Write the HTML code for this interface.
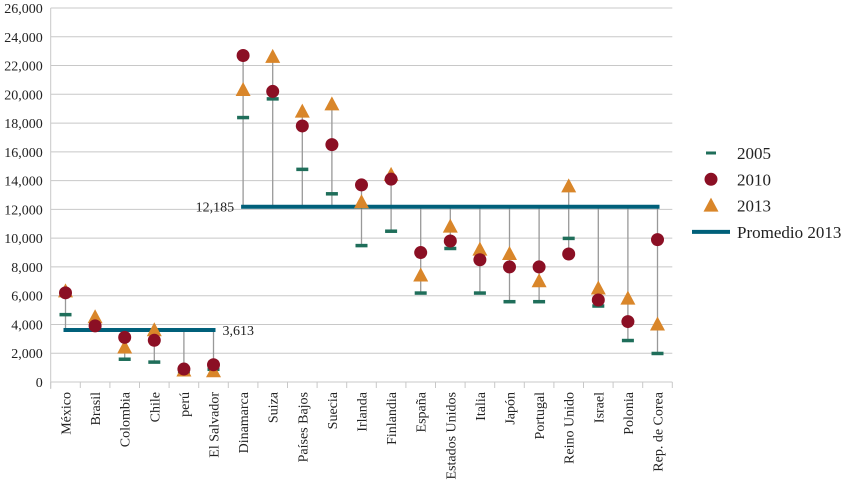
<!DOCTYPE html>
<html><head><meta charset="utf-8"><style>
body{margin:0;background:#fff}
svg{font-family:"Liberation Serif",serif}
</style></head><body>
<svg id="c" width="858" height="490"></svg>
<script>
const categories=["México","Brasil","Colombia","Chile","perú","El Salvador","Dinamarca","Suiza","Países Bajos","Suecia","Irlanda","Finlandia","España","Estados Unidos","Italia","Japón","Portugal","Reino Unido","Israel","Polonia","Rep. de Corea"];
const s2005=[4700,3800,1600,1400,600,900,18400,19700,14800,13100,9500,10500,6200,9300,6200,5600,5600,10000,5300,2900,2000];
const s2010=[6200,3900,3100,2900,900,1200,22700,20200,17800,16500,13700,14100,9000,9800,8500,8000,8000,8900,5700,4200,9900];
const s2013=[6300,4500,2400,3600,800,750,20300,22600,18800,19300,12500,14400,7400,10800,9200,8900,7000,13600,6500,5800,4000];
const avgGroups=[{from:0,to:5,value:3613,label:"3,613"},{from:6,to:20,value:12185,label:"12,185"}];
const yTicks=[0,2000,4000,6000,8000,10000,12000,14000,16000,18000,20000,22000,24000,26000];
const NS="http://www.w3.org/2000/svg";
const svg=document.getElementById('c');
const L=50.7,band=29.6,Y0=382,Ytop=8,YMAX=26000;
const x=i=>L+band*(i+0.5);
const y=v=>Y0-(Y0-Ytop)*v/YMAX;
function mk(t,a,p){const e=document.createElementNS(NS,t);for(const k in a)e.setAttribute(k,a[k]);(p||svg).appendChild(e);return e;}
yTicks.forEach(v=>{
 const g=mk('line',{x1:L,x2:L+band*21,y1:y(v),y2:y(v),stroke:'#c8c8c8','stroke-width':1});
 
 
 const t=mk('text',{x:L-8,y:y(v)+5,'text-anchor':'end','font-size':14,fill:'#222'});
 t.textContent=v.toLocaleString('en-US');
 
 
});
const ax=mk('line',{x1:L,x2:L,y1:Ytop,y2:Y0+7,stroke:'#c8c8c8'});

for(let i=0;i<=21;i++){const tk=mk('line',{x1:L+band*i,x2:L+band*i,y1:Y0,y2:Y0+6,stroke:'#c8c8c8'});
 
 }
categories.forEach((c,i)=>{
 const t=mk('text',{transform:`translate(${x(i)+5},392) rotate(-90)`,'text-anchor':'end','font-size':14,fill:'#222'});
 t.textContent=c;
 
 
});
avgGroups.forEach(g=>{for(let i=g.from;i<=g.to;i++){
 const vals=[g.value,s2005[i],s2010[i],s2013[i]];
 const dl=mk('line',{x1:x(i),x2:x(i),y1:y(Math.min(...vals)),y2:y(Math.max(...vals)),stroke:'#999','stroke-width':1.3});
 
 
}});
avgGroups.forEach(g=>{
 const al=mk('line',{x1:x(g.from)-2,x2:x(g.to)+2,y1:y(g.value),y2:y(g.value),stroke:'#00607a','stroke-width':4});
 
 
 const first=g.from===0;
 const t=mk('text',{x:first?x(g.to)+9:x(g.from)-9,y:y(g.value)+5,'text-anchor':first?'start':'end','font-size':14,fill:'#222'});
 t.textContent=g.label;
 
 
});
categories.forEach((c,i)=>{
 const r=mk('rect',{x:x(i)-6,y:y(s2005[i])-1.5,width:12,height:3.5,fill:'#1f6e5a'});
 
 
 const tx=x(i),ty=y(s2013[i]);
 const p=mk('polygon',{points:`${tx},${ty-8} ${tx-7.5},${ty+6} ${tx+7.5},${ty+6}`,fill:'#d9862a'});
 
 
 const ci=mk('circle',{cx:x(i),cy:y(s2010[i]),r:6.5,fill:'#8b0f24'});
 
 
});
const lg=mk('g',{});


const items=[["2005",'dash'],["2010",'circle'],["2013",'tri'],["Promedio 2013",'line']];
items.forEach((it,k)=>{
 const cy=153+k*26.3;
 if(it[1]==='dash')mk('rect',{x:706,y:cy-1.5,width:10,height:3,fill:'#1f6e5a'},lg);
 if(it[1]==='circle')mk('circle',{cx:711,cy:cy,r:6.5,fill:'#8b0f24'},lg);
 if(it[1]==='tri')mk('polygon',{points:`711,${cy-8} 703.5,${cy+6} 718.5,${cy+6}`,fill:'#d9862a'},lg);
 if(it[1]==='line')mk('line',{x1:692,x2:730,y1:cy,y2:cy,stroke:'#00607a','stroke-width':4},lg);
 const t=mk('text',{x:737,y:cy+6,'font-size':17,fill:'#222'},lg);
 t.textContent=it[0];
 
 
});
</script>
</body></html>
